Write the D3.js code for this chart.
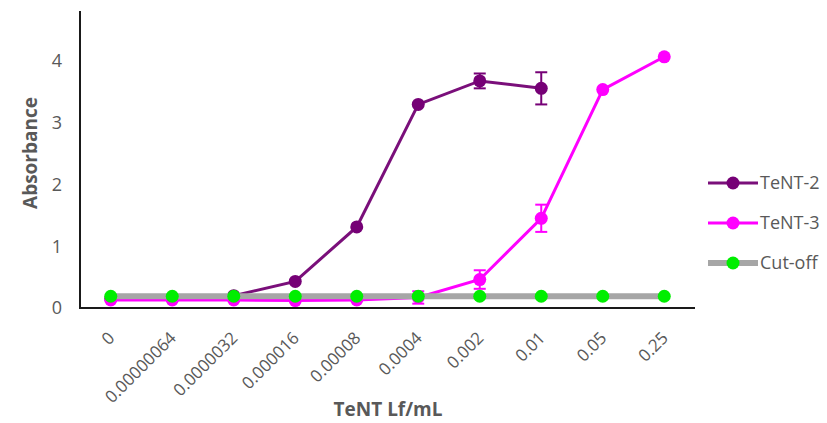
<!DOCTYPE html>
<html><head><meta charset="utf-8">
<script src="https://cdn.jsdelivr.net/npm/d3@7"></script>
<style>body{margin:0;background:#fff}svg{display:block}text{font-family:"Open Sans",sans-serif}</style>
</head><body><div id="c"></div>
<script>
const categories = ["0","0.00000064","0.0000032","0.000016","0.00008","0.0004","0.002","0.01","0.05","0.25"];
const tent2 = [0.15,0.15,0.20,0.43,1.31,3.29,3.67,3.55,null,null];
const tent2Err = [0,0,0,0,0,0,0.12,0.26,0,0];
const tent3 = [0.13,0.13,0.13,0.12,0.13,0.17,0.46,1.45,3.53,4.06];
const tent3Err = [0,0,0,0,0,0.10,0.15,0.22,0,0];
const cutoff = [0.19,0.19,0.19,0.19,0.19,0.19,0.19,0.19,0.19,0.19];
const yTicks = [0,1,2,3,4];
const seriesNames = ["TeNT-2","TeNT-3","Cut-off"];

const W=827,H=423;
const svg=d3.select("#c").append("svg").attr("width",W).attr("height",H);
const x=d3.scaleBand().domain(categories).range([80,695]).padding(0);
const y=d3.scaleLinear().domain([0,4.8]).range([308,11]);
const cx=c=>x(c)+x.bandwidth()/2;
const grey="#595959";

// y tick labels
svg.append("g").selectAll("text").data(yTicks).join("text")
  .attr("x",62).attr("y",d=>y(d)).attr("dy","0.36em").attr("text-anchor","end")
  .attr("fill",grey).attr("font-size",18).text(d=>d);

// x tick labels
svg.append("g").selectAll("text").data(categories).join("text")
  .attr("transform",c=>`translate(${cx(c)+5},${339}) rotate(-45)`)
  .attr("text-anchor","end")
  .attr("fill",grey).attr("font-size",17).text(c=>c);

// axis titles
svg.append("text").attr("transform","translate(37,153) rotate(-90)").attr("text-anchor","middle")
  .attr("fill",grey).attr("font-size",19).attr("font-weight","bold").text("Absorbance");
svg.append("text").attr("x",388).attr("y",416).attr("text-anchor","middle")
  .attr("fill",grey).attr("font-size",19).attr("font-weight","bold").text("TeNT Lf/mL");

function drawSeries(vals,errs,color,lw,mcolor){
  const pts=categories.map((c,i)=>({c,v:vals[i],e:errs?errs[i]:0})).filter(d=>d.v!=null);
  const g=svg.append("g");
  g.append("path").datum(pts).attr("fill","none").attr("stroke",color).attr("stroke-width",lw)
    .attr("d",d3.line().x(d=>cx(d.c)).y(d=>y(d.v)));
  const eb=g.selectAll("g.e").data(pts.filter(d=>d.e>0)).join("g");
  eb.append("line").attr("x1",d=>cx(d.c)).attr("x2",d=>cx(d.c)).attr("y1",d=>y(d.v-d.e)).attr("y2",d=>y(d.v+d.e)).attr("stroke",mcolor).attr("stroke-width",2);
  eb.append("line").attr("x1",d=>cx(d.c)-6).attr("x2",d=>cx(d.c)+6).attr("y1",d=>y(d.v-d.e)).attr("y2",d=>y(d.v-d.e)).attr("stroke",mcolor).attr("stroke-width",2);
  eb.append("line").attr("x1",d=>cx(d.c)-6).attr("x2",d=>cx(d.c)+6).attr("y1",d=>y(d.v+d.e)).attr("y2",d=>y(d.v+d.e)).attr("stroke",mcolor).attr("stroke-width",2);
  g.selectAll("circle").data(pts).join("circle").attr("cx",d=>cx(d.c)).attr("cy",d=>y(d.v)).attr("r",6.5).attr("fill",mcolor);
}
drawSeries(tent2,tent2Err,"#7a0f7a",3,"#760076");
drawSeries(tent3,tent3Err,"#ff00ff",3,"#ff00ff");
drawSeries(cutoff,null,"#a6a6a6",6,"#00ee00");

// axes lines
svg.append("line").attr("x1",80).attr("x2",80).attr("y1",11).attr("y2",309).attr("stroke","#1a1a1a").attr("stroke-width",2);
svg.append("line").attr("x1",79).attr("x2",695).attr("y1",308).attr("y2",308).attr("stroke","#1a1a1a").attr("stroke-width",2);

// legend
const leg=[{n:seriesNames[0],c:"#7a0f7a",m:"#760076",w:3},{n:seriesNames[1],c:"#ff00ff",m:"#ff00ff",w:3},{n:seriesNames[2],c:"#a6a6a6",m:"#00ee00",w:6}];
const lg=svg.append("g").selectAll("g").data(leg).join("g").attr("transform",(d,i)=>`translate(0,${183+i*40})`);
lg.append("line").attr("x1",708).attr("x2",758).attr("stroke",d=>d.c).attr("stroke-width",d=>d.w);
lg.append("circle").attr("cx",733).attr("r",6.5).attr("fill",d=>d.m);
lg.append("text").attr("x",760).attr("dy","0.36em").attr("fill",grey).attr("font-size",18).text(d=>d.n);
</script></body></html>
